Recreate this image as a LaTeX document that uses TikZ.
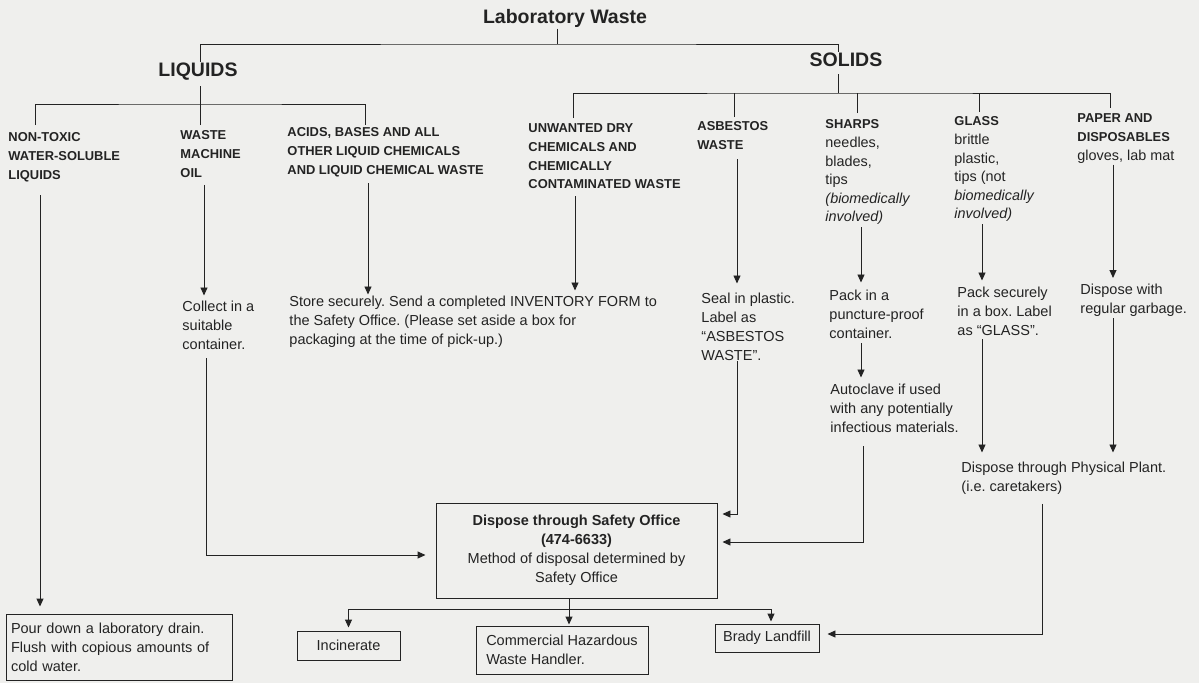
\documentclass[tikz,border=0pt]{standalone}
\usepackage{fontspec}
\setmainfont{Liberation Sans}
\usepackage{xcolor}
\usetikzlibrary{arrows.meta}
\definecolor{paper}{RGB}{239,239,237}
\definecolor{ink}{RGB}{35,35,35}
\newcommand\lc[1]{{\mdseries\fontsize{14.4}{18.6}\selectfont #1}}
\frenchspacing

\begin{document}
\begin{tikzpicture}[x=1pt, y=-1pt, line width=0.95pt, color=ink,
	head/.style={inner sep=1pt, font=\bfseries\fontsize{19.5}{23}\selectfont},
	cat/.style={anchor=north west, inner sep=0pt, align=left, font=\bfseries\fontsize{12.9}{18.6}\selectfont},
	act/.style={anchor=north west, inner sep=0pt, align=left, font=\fontsize{14.5}{19}\selectfont},
	box/.style={draw, inner sep=0pt, font=\fontsize{14.5}{19}\selectfont},
	link/.style={-{Triangle[length=8pt,width=7pt]}, shorten >=5pt}]
	\fill[paper] (0,0) rectangle (1199,683);
	\useasboundingbox (0,0) rectangle (1199,683);

	\node[head] (lab) at (565,18) {Laboratory Waste};
	\node[head] (liquids) at (198,72) {LIQUIDS};
	\node[head] (solids) at (846,60) {SOLIDS};

	\node[cat] (nontox) at (8,132.5) {NON-TOXIC\\WATER-SOLUBLE\\LIQUIDS};
	\node[cat] (oil) at (180,130.5) {WASTE\\MACHINE\\OIL};
	\node[cat] (acids) at (287,127.5) {ACIDS, BASES AND ALL\\OTHER LIQUID CHEMICALS\\AND LIQUID CHEMICAL WASTE};
	\node[cat] (unwanted) at (528,123.5) {UNWANTED DRY\\CHEMICALS AND\\CHEMICALLY\\CONTAMINATED WASTE};
	\node[cat] (asbestos) at (697,121.5) {ASBESTOS\\WASTE};
	\node[cat] (sharps) at (825,119.5) {SHARPS\\\lc{needles,}\\\lc{blades,}\\\lc{tips}\\\lc{\textit{(biomedically}}\\\lc{\textit{involved)}}};
	\node[cat] (glass) at (954,116.5) {GLASS\\\lc{brittle}\\\lc{plastic,}\\\lc{tips (not}\\\lc{\textit{biomedically}}\\\lc{\textit{involved)}}};
	\node[cat] (paper) at (1077,113.5) {PAPER AND\\DISPOSABLES\\\lc{gloves, lab mat}};

	\node[act] (collect) at (182,300.5) {Collect in a\\suitable\\container.};
	\node[act] (store) at (289,295.5) {Store securely. Send a completed INVENTORY FORM to\\the Safety Office. (Please set aside a box for\\packaging at the time of pick-up.)};
	\node[act] (seal) at (701,292.5) {Seal in plastic.\\Label as\\“ASBESTOS\\WASTE”.};
	\node[act] (pack) at (829,289.5) {Pack in a\\puncture-proof\\container.};
	\node[act] (autoclave) at (830,383.5) {Autoclave if used\\with any potentially\\infectious materials.};
	\node[act] (packglass) at (957,286.5) {Pack securely\\in a box. Label\\as “GLASS”.};
	\node[act] (garbage) at (1080,284) {Dispose with\\regular garbage.};
	\node[act] (physical) at (961,461.5) {Dispose through Physical Plant.\\(i.e. caretakers)};

	\node[box, align=center, minimum width=281, minimum height=95] (safety) at (576.5,550.5) {\textbf{Dispose through Safety Office}\\\textbf{(474-6633)}\\Method of disposal determined by\\Safety Office};
	\node[box, align=left, text width=216, inner xsep=5pt, minimum height=66] (pour) at (119,647) {Pour down a laboratory drain.\\Flush with copious amounts of\\cold water.};
	\node[box, minimum width=103, minimum height=29] (incin) at (348.5,645.5) {Incinerate};
	\node[box, align=left, minimum width=172, minimum height=48] (haz) at (562,650) {Commercial Hazardous\\Waste Handler.};
	\node[box, minimum width=104, minimum height=28] (brady) at (767,638) {Brady Landfill};

	\coordinate (lab-bus) at (557,44);
	\coordinate (liq-bus) at (200,104);
	\coordinate (sol-bus) at (838,93);
	\coordinate (sf-bus) at (569,609);
	\coordinate (nontox-top) at (35,125);
	\coordinate (oil-top) at (200,125);
	\coordinate (acids-top) at (365,125);
	\coordinate (unw-top) at (573,118);
	\coordinate (asb-top) at (734,117);
	\coordinate (shp-top) at (857,113);
	\coordinate (gla-top) at (979,112);
	\coordinate (pap-top) at (1110,108);
	\coordinate (nontox-lane) at (40,0);
	\coordinate (oil-lane) at (204,0);
	\coordinate (acids-lane) at (368,0);
	\coordinate (unw-lane) at (575,0);
	\coordinate (col-lane) at (206,0);
	\coordinate (asb-lane) at (737,0);
	\coordinate (shp-lane) at (861,0);
	\coordinate (gla-lane) at (982,0);
	\coordinate (pap-lane) at (1113,0);
	\coordinate (phy-lane) at (1042,0);

	\draw (lab-bus |- lab.south) -- (lab-bus);
	\draw ([xshift=2pt]liquids.north) |- (lab-bus) -| ([xshift=-8pt]solids.north);
	\draw[shorten <=4pt] ([xshift=2pt]liquids.south) -- (liq-bus);
	\draw (nontox-top) |- (liq-bus) -| (acids-top);
	\draw (oil-top) -- (liq-bus);
	\draw[shorten <=6pt] ([xshift=-8pt]solids.south) -- (sol-bus);
	\draw (unw-top) |- (sol-bus) -| (pap-top);
	\foreach \c in {asb,shp,gla}
		\draw (\c-top) -- (\c-top |- sol-bus);

	\draw[link, shorten <=13pt, shorten >=7pt] (nontox-lane |- nontox.south) -- (nontox-lane |- pour.north);
	\draw[link, shorten <=7pt] (oil-lane |- oil.south) -- (oil-lane |- collect.north);
	\draw[link, shorten <=6pt, shorten >=1pt] (acids-lane |- acids.south) -- (acids-lane |- store.north);
	\draw[link, shorten <=7pt] (unw-lane |- unwanted.south) -- (unw-lane |- store.north);
	\draw[link, shorten <=9pt, shorten >=9pt] (asb-lane |- asbestos.south) -- (asb-lane |- seal.north);
	\draw[link, shorten <=2pt, shorten >=7pt] (shp-lane |- sharps.south) -- (shp-lane |- pack.north);
	\draw[link, shorten <=2pt, shorten >=6pt] (gla-lane |- glass.south) -- (gla-lane |- packglass.north);
	\draw[link, shorten <=1pt, shorten >=6pt] (pap-lane |- paper.south) -- (pap-lane |- garbage.north);

	\draw[link, shorten <=8pt, shorten >=10pt] (col-lane |- collect.south) |- ([yshift=-4.5pt]safety.west);
	\draw[link] (asb-lane |- seal.south) |- ([yshift=36.5pt]safety.east);
	\draw[link, shorten <=4pt, shorten >=6pt] (shp-lane |- pack.south) -- (shp-lane |- autoclave.north);
	\draw[link, shorten <=13pt] ([xshift=2pt]shp-lane |- autoclave.south) |- ([yshift=8.5pt]safety.east);
	\draw[link, shorten <=3pt, shorten >=9pt] (gla-lane |- packglass.south) -- (gla-lane |- physical.north);
	\draw[link, shorten <=1pt, shorten >=9pt] (pap-lane |- garbage.south) -- (pap-lane |- physical.north);
	\draw[link, shorten <=9pt, shorten >=8pt] (phy-lane |- physical.south) |- ([yshift=4pt]brady.east);

	\draw[link, shorten >=1pt] (sf-bus |- safety.south) -- (sf-bus |- haz.north);
	\draw[link, shorten >=3pt] (sf-bus) -| (incin.north);
	\draw[link, shorten >=2pt] (sf-bus) -| ([xshift=4pt]brady.north);
\end{tikzpicture}
\end{document}
